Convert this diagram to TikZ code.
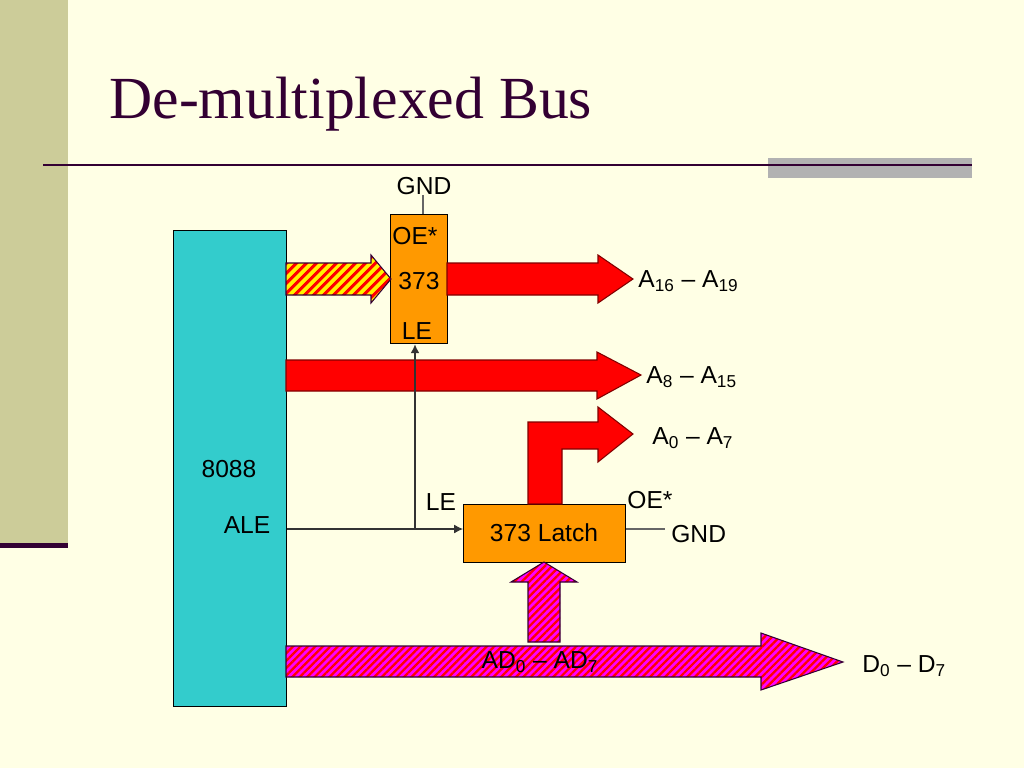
\documentclass[tikz,border=0pt]{standalone}
\usepackage{fontspec}
\setmainfont{Liberation Sans}
\newfontfamily\titlefont{Liberation Serif}
\usetikzlibrary{patterns.meta,arrows.meta}
\definecolor{slidebg}{RGB}{255,255,229}
\definecolor{sidebar}{RGB}{204,204,153}
\definecolor{plum}{RGB}{51,0,51}
\definecolor{cpucyan}{RGB}{51,204,204}
\definecolor{latchorange}{RGB}{255,153,0}
\definecolor{busred}{RGB}{255,0,0}
\definecolor{busmagenta}{RGB}{255,0,255}
\begin{document}
\begin{tikzpicture}[x=0.02cm,y=-0.02cm,
    every node/.style={font=\fontsize{14}{16}\selectfont,inner sep=0pt},
    chip/.style={draw=black,line width=0.8pt,anchor=north west},
    redbus/.style={fill=busred,draw=busred!50!black,line width=0.6pt},
    hatchbus/.style={preaction={fill=#1},pattern={Lines[angle=45,distance=3pt,line width=1.3pt]},pattern color=busred,draw=plum,line width=0.6pt},
    wire/.style={line width=0.6pt,draw=black!80}]
    \fill[slidebg] (0,0) rectangle (1024,768);
    \fill[sidebar] (0,0) rectangle (68,545);
    \fill[plum] (0,543) rectangle (68,548);
    \fill[black!30] (768,158) rectangle (972,178);
    \draw[plum,line width=1.2pt] (43,165) -- (972,165);
    \node[anchor=base west,font=\titlefont\fontsize{34}{40}\selectfont,text=plum] (title) at (109,118) {De-multiplexed Bus};
    % chips
    \node[chip,fill=cpucyan,minimum width=2.26cm,minimum height=9.52cm] (cpu) at (173,230) {};
    \node[chip,fill=latchorange,minimum width=1.14cm,minimum height=2.58cm] (hilatch) at (390,214) {};
    \node[chip,fill=latchorange,minimum width=3.24cm,minimum height=1.16cm] (latch) at (463,504) {};
    \node at (544,533) {373 Latch};
    \node (cpuname) at (229,469) {8088};
    \node (ale) at (247,525) {ALE};
    \node (hioe) at (415,236) {OE*};
    \node (hiname) at (419,281) {373};
    \node (hile) at (417,331) {LE};
    \node (gndtop) at (424,186) {GND};
    \node (le) at (441,502) {LE};
    \node (oe) at (650,500) {OE*};
    \node[anchor=west] (gndlow) at (671,534) {GND};
    % buses
    \draw[hatchbus=yellow,pattern={Lines[angle=45,distance=4pt,line width=1.8pt]}] (286,263) -- (371,263) -- (371,255) -- (391,279) -- (371,303) -- (371,295) -- (286,295) -- cycle;
    \draw[redbus] (447,263) -- (598,263) -- (598,255) -- (633,279) -- (598,303) -- (598,295) -- (447,295) -- cycle;
    \draw[redbus] (286,360) -- (597,360) -- (597,352) -- (641,375) -- (597,399) -- (597,391) -- (286,391) -- cycle;
    \draw[redbus] (528,504) -- (528,422) -- (598,422) -- (598,407) -- (633,434) -- (598,462) -- (598,449) -- (562,449) -- (562,504) -- cycle;
    \draw[hatchbus=busmagenta] (528,642) -- (528,582) -- (511,582) -- (544,562) -- (577,582) -- (560,582) -- (560,642) -- cycle;
    \draw[hatchbus=busmagenta] (286,646) -- (761,646) -- (761,633) -- (843,662) -- (761,690) -- (761,677) -- (286,677) -- cycle;
    \node[anchor=west] (hiaddr) at (638,281) {A\textsubscript{16} -- A\textsubscript{19}};
    \node[anchor=west] (midaddr) at (646,377) {A\textsubscript{8} -- A\textsubscript{15}};
    \node[anchor=west] (loaddr) at (652,438) {A\textsubscript{0} -- A\textsubscript{7}};
    \node (adbus) at (540,662) {AD\textsubscript{0} -- AD\textsubscript{7}};
    \node[anchor=west] (dbus) at (862,666) {D\textsubscript{0} -- D\textsubscript{7}};
    % control lines
    \coordinate (alestart) at (cpu.east |- 0,529);
    \coordinate (aletap) at (415,529);
    \draw[wire,-{Latex[length=5pt,width=5pt]}] (alestart) -- (latch.west |- alestart);
    \draw[wire,-{Latex[length=5pt,width=5pt]}] (aletap) -- (aletap |- hilatch.south);
    \draw[wire,draw=black!60] (gndtop.south -| 423,0) -- (hilatch.north -| 423,0);
    \draw[wire,draw=black!60] (latch.east |- alestart) -- (665,529);
\end{tikzpicture}
\end{document}
